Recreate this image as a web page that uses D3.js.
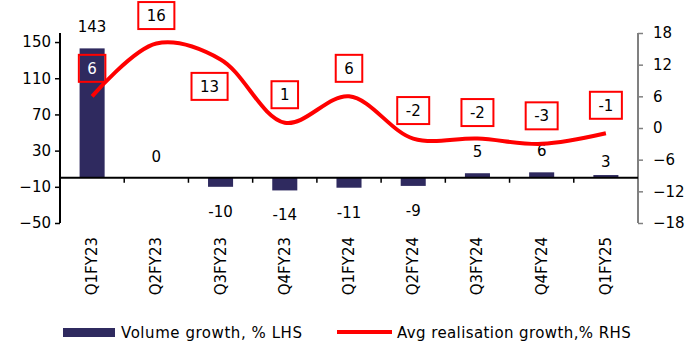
<!DOCTYPE html>
<html>
<head>
<meta charset="utf-8">
<script src="https://cdn.jsdelivr.net/npm/d3@7"></script>
<style>
  body { margin: 0; background: #fff; }
  text { font-family: "DejaVu Sans", Verdana, sans-serif; font-size: 15px; fill: #000; }
</style>
</head>
<body>
<div id="chart"></div>
<script>
"use strict";
var w = 693;
var h = 347;

// data
var quarters = ["Q1FY23", "Q2FY23", "Q3FY23", "Q4FY23", "Q1FY24", "Q2FY24", "Q3FY24", "Q4FY24", "Q1FY25"];
var volumeGrowth = [143, 0, -10, -14, -11, -9, 5, 6, 3];
var realisationGrowth = [6, 16, 13, 1, 6, -2, -2, -3, -1];
var leftTicks = [-50, -10, 30, 70, 110, 150];
var rightTicks = [-18, -12, -6, 0, 6, 12, 18];

var margin = {left: 60, right: 55, top: 33, bottom: 124};
var barColor = "#2f2a5f";

function init() {
    draw();
}
window.onload = init;

function draw() {
    var svg = d3.select("#chart")
        .append("svg")
        .attr("width", w)
        .attr("height", h);

    var x = d3.scaleBand()
        .domain(quarters)
        .range([margin.left, w - margin.right]);
    var yL = d3.scaleLinear()
        .domain([-50, 160])
        .range([h - margin.bottom, margin.top]);
    var yR = d3.scaleLinear()
        .domain([-18, 18])
        .range([h - margin.bottom, margin.top]);

    var barW = x.bandwidth() * 0.39;
    var cx = function(q){ return x(q) + x.bandwidth() / 2; };

    // bars
    svg.selectAll("rect.bar")
        .data(quarters)
        .enter()
        .append("rect")
        .attr("class", "bar")
        .attr("x", function(d){ return cx(d) - barW / 2; })
        .attr("width", barW)
        .attr("y", function(d, i){ return yL(Math.max(0, volumeGrowth[i])); })
        .attr("height", function(d, i){ return Math.abs(yL(volumeGrowth[i]) - yL(0)); })
        .attr("fill", barColor);

    // left axis
    var leftAxis = svg.append("g")
        .attr("transform", "translate(" + margin.left + ",0)")
        .call(d3.axisLeft(yL).tickValues(leftTicks).tickSize(5).tickPadding(4));
    leftAxis.select(".domain").attr("d", "M0," + yL(160) + "V" + yL(-50))
        .attr("stroke", "#000").attr("stroke-width", 2);
    leftAxis.selectAll(".tick line").attr("stroke", "#000").attr("stroke-width", 1.5);
    leftAxis.selectAll("text").style("font-size", "15px").attr("fill", "#000");

    // right axis
    var rightAxis = svg.append("g")
        .attr("transform", "translate(" + (w - margin.right) + ",0)")
        .call(d3.axisRight(yR).tickValues(rightTicks).tickSize(5).tickPadding(10));
    rightAxis.select(".domain").attr("d", "M0," + yR(18) + "V" + yR(-18))
        .attr("stroke", "#808080").attr("stroke-width", 2);
    rightAxis.selectAll(".tick line").attr("stroke", "#808080").attr("stroke-width", 1.5);
    rightAxis.selectAll("text").style("font-size", "15px").attr("fill", "#000");

    // x axis at zero
    var y0 = yL(0);
    svg.append("line")
        .attr("x1", margin.left).attr("x2", w - margin.right)
        .attr("y1", y0).attr("y2", y0)
        .attr("stroke", "#000").attr("stroke-width", 2);
    svg.selectAll("line.xtick")
        .data(quarters.slice(1))
        .enter()
        .append("line")
        .attr("class", "xtick")
        .attr("x1", function(d){ return x(d); })
        .attr("x2", function(d){ return x(d); })
        .attr("y1", y0).attr("y2", y0 + 5)
        .attr("stroke", "#000").attr("stroke-width", 1.5);

    // category labels, rotated
    svg.selectAll("text.cat")
        .data(quarters)
        .enter()
        .append("text")
        .attr("class", "cat")
        .attr("transform", function(d){ return "translate(" + (cx(d) + 5) + ",237) rotate(-90)"; })
        .attr("text-anchor", "end")
        .text(function(d){ return d; });

    // bar value labels
    var barNudge = [0, 0, 0, 0, 0, 0, 0, 0, 8];
    svg.selectAll("text.vol")
        .data(quarters)
        .enter()
        .append("text")
        .attr("class", "vol")
        .attr("x", cx)
        .attr("y", function(d, i){
            var v = volumeGrowth[i];
            return (v >= 0 ? yL(v) - 16 : yL(v) + 30) + barNudge[i];
        })
        .attr("text-anchor", "middle")
        .text(function(d, i){ return volumeGrowth[i]; });

    // smoothed realisation line
    var line = d3.line()
        .x(function(d, i){ return cx(quarters[i]); })
        .y(function(d){ return yR(d); })
        .curve(d3.curveCatmullRom.alpha(0.5));
    svg.append("path")
        .datum(realisationGrowth)
        .attr("d", line)
        .attr("fill", "none")
        .attr("stroke", "#ff0000")
        .attr("stroke-width", 4);

    // boxed labels for the line
    var boxShift = [[0, 0], [0, 0], [-11, 55], [0, 0], [0, 0], [0, 0], [0, 2], [0, 0], [0, 0]];
    var boxes = svg.selectAll("g.box")
        .data(quarters)
        .enter()
        .append("g")
        .attr("class", "box")
        .attr("transform", function(d, i){
            var s = boxShift[i];
            return "translate(" + (cx(d) + s[0]) + "," + (yR(realisationGrowth[i]) - 28 + s[1]) + ")";
        });
    boxes.append("text")
        .attr("text-anchor", "middle")
        .attr("dy", "0.36em")
        .style("fill", function(d, i){ return i == 0 ? "#fff" : "#000"; })
        .text(function(d, i){ return realisationGrowth[i]; });
    boxes.each(function(){
        var g = d3.select(this);
        var bb = g.select("text").node().getBBox();
        g.insert("rect", "text")
            .attr("x", -bb.width / 2 - 8.5)
            .attr("y", -13.5)
            .attr("width", bb.width + 17)
            .attr("height", 27)
            .attr("fill", "none")
            .attr("stroke", "#ff0000")
            .attr("stroke-width", 2);
    });

    // legend
    var legend = svg.append("g");
    legend.append("rect")
        .attr("x", 63).attr("y", 328)
        .attr("width", 52).attr("height", 9)
        .attr("fill", barColor);
    legend.append("text")
        .attr("x", 121).attr("y", 338)
        .style("letter-spacing", "0.55px")
        .text("Volume growth, % LHS");
    legend.append("line")
        .attr("x1", 337).attr("x2", 392)
        .attr("y1", 332).attr("y2", 332)
        .attr("stroke", "#ff0000").attr("stroke-width", 4);
    legend.append("text")
        .attr("x", 397).attr("y", 338)
        .style("letter-spacing", "0.4px")
        .text("Avg realisation growth,% RHS");
}
</script>
</body>
</html>
